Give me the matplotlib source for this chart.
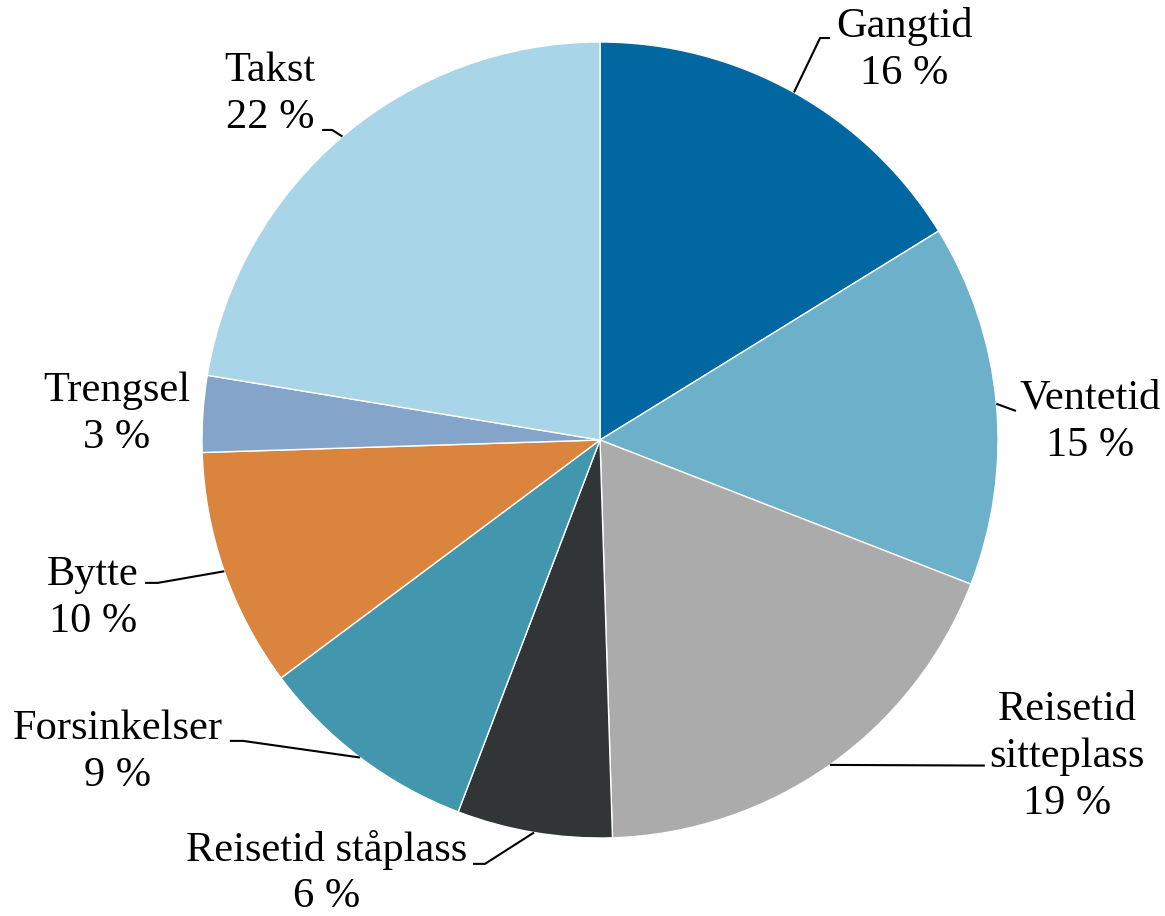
import numpy as np
import matplotlib
matplotlib.use("Agg")
import matplotlib.pyplot as plt

categories = ["Gangtid", "Ventetid", "Reisetid\nsitteplass", "Reisetid ståplass",
              "Forsinkelser", "Bytte", "Trengsel", "Takst"]
values = [16.2, 14.7, 18.6, 6.3, 9.0, 9.7, 3.1, 22.4]
pct_labels = ["16 %", "15 %", "19 %", "6 %", "9 %", "10 %", "3 %", "22 %"]
colors = ["#0067A0", "#6CB0CA", "#AAABAA", "#323536", "#4297AF",
          "#DB843E", "#84A4C9", "#A8D5E8"]

# label layout (data coords, pie radius = 1)
label_pos = [(0.764, 0.980), (1.231, 0.045), (1.173, -0.796), (-0.686, -1.088),
             (-1.211, -0.784), (-1.274, -0.397), (-1.214, 0.065), (-0.829, 0.869)]
# leader line points after the wedge anchor (elbow, end); None = no leader
leaders = [[(0.553, 1.010), (0.578, 1.010)],
           [(1.045, 0.073)],
           [(0.967, -0.818)],
           [(-0.289, -1.065), (-0.319, -1.065)],
           [(-0.897, -0.756), (-0.930, -0.756)],
           [(-1.111, -0.359), (-1.143, -0.359)],
           None,
           [(-0.673, 0.779), (-0.698, 0.779)]]

fig = plt.figure(figsize=(11.65, 9.16), dpi=100)
ax = fig.add_axes([0, 0, 1, 1])
wedges, _ = ax.pie(values, colors=colors, startangle=90, counterclock=False,
                   radius=1.0, wedgeprops=dict(edgecolor="white", linewidth=1.0))
ax.set_xlim(-600 / 398, 565 / 398)
ax.set_ylim(-476 / 398, 440 / 398)
ax.set_aspect("equal")
ax.axis("off")

font = dict(family=["Liberation Serif", "DejaVu Serif"], fontsize=30.5)
for w, cat, pct, pos, lead in zip(wedges, categories, pct_labels, label_pos, leaders):
    ax.text(pos[0], pos[1], cat + "\n" + pct, ha="center", va="center",
            linespacing=1.28, **font)
    if lead:
        mid = np.deg2rad((w.theta1 + w.theta2) / 2)
        pts = [(np.cos(mid), np.sin(mid))] + lead
        xs, ys = zip(*pts)
        ax.plot(xs, ys, color="black", lw=1.5, solid_capstyle="butt")

fig.savefig("out.png", dpi=100, facecolor="white")
